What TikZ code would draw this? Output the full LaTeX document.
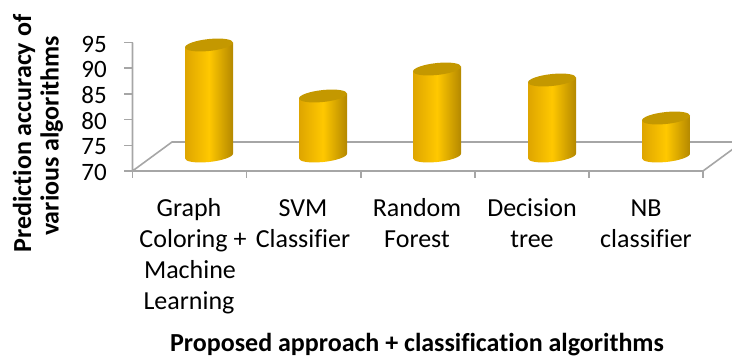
\documentclass[tikz,border=0pt]{standalone}
\usepackage{fontspec}
\setmainfont{Carlito}[Ligatures=NoCommon]
\usetikzlibrary{shadings}
\definecolor{axisgray}{RGB}{166,166,166}
\definecolor{barleft}{RGB}{222,165,0}
\definecolor{barmid}{RGB}{255,200,0}
\definecolor{barright}{RGB}{180,136,0}
\definecolor{bartop}{RGB}{196,152,0}
\tikzset{
  axisline/.style={draw=axisgray, line width=1.6pt},
  ticklabel/.style={font=\fontsize{25}{30}\selectfont, anchor=east, inner sep=0pt},
  catline/.style={font=\fontsize{26}{31}\selectfont, anchor=base, inner sep=0pt},
  titlefont/.style={font=\bfseries\fontsize{26}{31}\selectfont, anchor=base, inner sep=0pt},
  barbody/.style={left color=barleft, right color=barright, middle color=barmid, draw=none},
  bartopstyle/.style={fill=bartop, draw=none},
}
\newcommand{\cylbar}[3]{% name, x center, height
  \begin{scope}[shift={(#2,204)}, cm={1,0.1,0,1,(0,0)}]
    \path[barbody] (-24,#3) -- (-24,0) arc[start angle=180, end angle=360, x radius=24, y radius=6] -- (24,#3) -- cycle;
    \path[bartopstyle] (0,#3) ellipse[x radius=24, y radius=6];
    \coordinate (#1) at (0,#3);
  \end{scope}}
\begin{document}
\begin{tikzpicture}[x=1pt,y=1pt]
\useasboundingbox (0,0) rectangle (732,360);
\begin{scope}
\clip (0,0) rectangle (732,360);
% axis coordinates
\coordinate (ytop) at (132.5,317.5);
\coordinate (o) at (132.5,189);
\coordinate (fr) at (703,189);
\coordinate (bl) at (172,218);
\coordinate (br) at (742.5,218);
% floor and vertical axis
\draw[axisline] (ytop) -- (o) -- (fr) -- (br) -- (bl) -- (o);
% y ticks
\foreach \v [count=\i from 0] in {70,75,80,85,90,95} {
  \coordinate (yt\i) at (132.5,189+25.7*\i);
  \draw[axisline] (yt\i) -- ++(-9,0);
  \node[ticklabel] (yl\i) at (107,187.5+25.7*\i) {\v};
}
% x ticks
\foreach \i in {0,...,5} {
  \coordinate (xt\i) at (132.5+114.1*\i,189);
  \draw[axisline] (xt\i) -- ++(0,-7);
}
\end{scope}
% bars
\cylbar{b1}{209}{111}
\cylbar{b2}{323}{60}
\cylbar{b3}{437}{87}
\cylbar{b4}{552}{76}
\cylbar{b5}{666}{38}
% category labels
\node[catline] (c1a) at (189,144) {Graph};
\node[catline] (c1b) at (193,112.5) {Coloring +};
\node[catline] (c1c) at (190,81.5) {Machine};
\node[catline] (c1d) at (189,50.5) {Learning};
\node[catline] (c2a) at (303,144) {SVM};
\node[catline] (c2b) at (303,112.5) {Classifier};
\node[catline] (c3a) at (417,144) {Random};
\node[catline] (c3b) at (417,112.5) {Forest};
\node[catline] (c4a) at (532,144) {Decision};
\node[catline] (c4b) at (532,112.5) {tree};
\node[catline] (c5a) at (646,144) {NB};
\node[catline] (c5b) at (646,112.5) {classifier};
% titles
\node[titlefont] (xtitle) at (417,8.5) {Proposed approach + classification algorithms};
\node[titlefont, rotate=90] (ytitle1) at (31,226.5) {Prediction accuracy of};
\node[titlefont, rotate=90] (ytitle2) at (58.5,224) {various algorithms};
\end{tikzpicture}
\end{document}
